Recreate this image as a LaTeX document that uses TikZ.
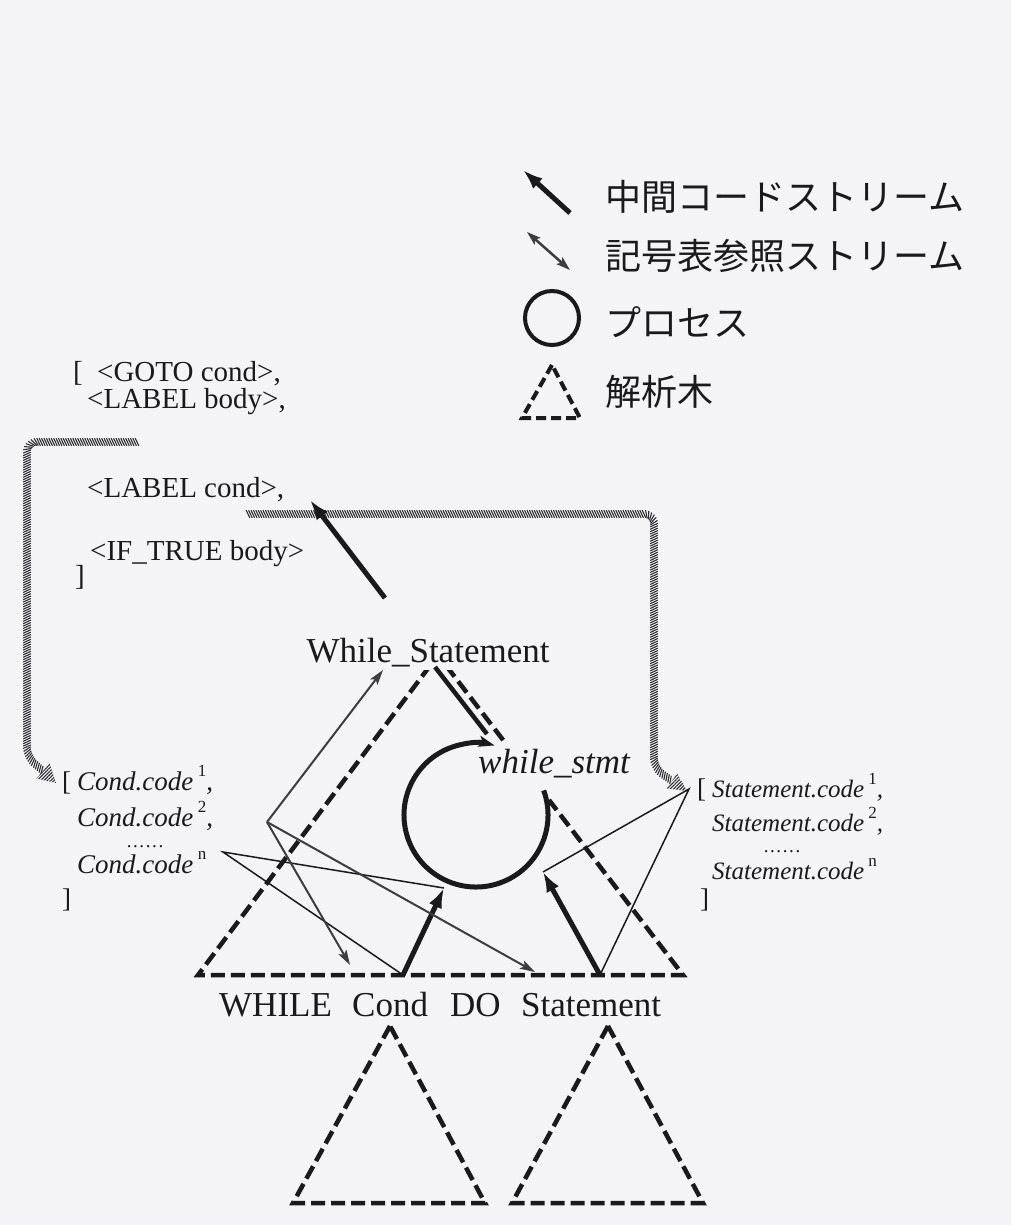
\documentclass[tikz,border=0pt]{standalone}
\usepackage{fontspec}
\setmainfont{Liberation Serif}
\newfontfamily\jpfont{Noto Sans CJK JP}
\usetikzlibrary{arrows.meta,decorations.markings,patterns.meta,calc}
\definecolor{bgcol}{RGB}{244,243,247}
\definecolor{hatchcol}{RGB}{45,45,52}
\definecolor{symgray}{RGB}{60,60,66}
\definecolor{inkcol}{RGB}{25,25,30}
\newcommand{\supx}[1]{\,\raisebox{0.5em}{\fontsize{17}{17}\selectfont\upshape #1}}
\newcommand{\dotrow}{.\hspace{1.6pt}.\hspace{1.6pt}.\hspace{1.6pt}.\hspace{1.6pt}.\hspace{1.6pt}.}
\begin{document}
\begin{tikzpicture}[x=1pt,y=-1pt,
 thickarrow/.style={draw=inkcol,line width=5pt,-{Latex[length=20pt,width=14pt]}},
 thickline/.style={draw=inkcol,line width=4.5pt},
 symarrow/.style={draw=symgray,line width=2pt,-{Stealth[length=15pt,width=9pt,inset=3pt]}},
 symboth/.style={draw=symgray,line width=2.5pt,{Stealth[length=14pt,width=9pt,inset=3pt]}-{Stealth[length=14pt,width=9pt,inset=3pt]}},
 thinline/.style={draw=inkcol,line width=1.5pt,line join=miter},
 treedash/.style={draw=inkcol,line width=4.5pt,dash pattern=on 14pt off 6pt},
 legdash/.style={draw=inkcol,line width=4pt,dash pattern=on 10pt off 5pt},
 hatchpath/.style={rounded corners=10pt, postaction={decorate}, decoration={markings, mark=between positions 0 and 1 step 2.4pt with {\draw[hatchcol,line width=1.1pt] (-1.8pt,3.8pt) -- (1.8pt,-3.8pt);}}},
 hatchtip/.style={pattern={Lines[angle=45,distance=2.4pt,line width=1.1pt]},pattern color=hatchcol},
 codetxt/.style={font=\fontsize{29}{31}\selectfont,anchor=base west,inner sep=0pt,text=inkcol},
 ittxt/.style={font=\fontsize{27}{29}\selectfont\itshape,anchor=base west,inner sep=0pt,text=inkcol},
 sttxt/.style={font=\fontsize{25}{27}\selectfont\itshape,anchor=base west,inner sep=0pt,text=inkcol},
 brtxt/.style={font=\fontsize{27}{29}\selectfont,anchor=base west,inner sep=0pt,text=inkcol},
 dottxt/.style={font=\fontsize{19}{20}\selectfont,anchor=base,inner sep=0pt,text=inkcol},
 bigtxt/.style={font=\fontsize{35}{37}\selectfont,inner sep=0pt,text=inkcol},
 jptxt/.style={font=\jpfont\fontsize{36}{38}\selectfont,anchor=west,inner sep=0pt,text=inkcol}
]
\fill[bgcol] (0,0) rectangle (1011,1225);
\useasboundingbox (0,0) rectangle (1011,1225);

% ---------------- legend ----------------
\coordinate (l1a) at (570,213); \coordinate (l1b) at (523,170);
\draw[thickarrow] (l1a) -- (l1b);
\node[jptxt] (t1) at (605,197) {中間コードストリーム};
\coordinate (l2a) at (527,232); \coordinate (l2b) at (570,270);
\draw[symboth] (l2a) -- (l2b);
\node[jptxt] (t2) at (605,256) {記号表参照ストリーム};
\node[circle,draw=inkcol,line width=4pt,minimum size=54pt,inner sep=0pt] (lc) at (552,318) {};
\node[jptxt] (t3) at (605,322) {プロセス};
\coordinate (lt1) at (552,365); \coordinate (lt2) at (522,418); \coordinate (lt3) at (580,418);
\draw[legdash] (lt1) -- (lt2) -- (lt3) -- cycle;
\node[jptxt] (t4) at (605,392) {解析木};

% ---------------- code list ----------------
\node[codetxt] (lb1) at (73,381) {[};
\node[codetxt] (g1) at (97,381) {<GOTO cond>,};
\node[codetxt] (g2) at (87,408) {<LABEL body>,};
\node[codetxt] (g3) at (87,497) {<LABEL cond>,};
\node[codetxt] (g4) at (90,560) {<IF\_TRUE body>};
\node[codetxt] (rb1) at (75,585) {]};

% hatched streams
\coordinate (h1s) at (137,442); \coordinate (h1c1) at (27,442);
\coordinate (h1c2) at (27,757); \coordinate (h1e) at (43,771);
\path[hatchpath] (h1s) -- (h1c1) -- (h1c2) -- (h1e);
\coordinate (h1b1) at (36.4,778.5); \coordinate (h1b2) at (49.6,763.5); \coordinate (h1t) at (56,783);
\fill[hatchtip] (h1b1) -- (h1t) -- (h1b2) -- cycle;

\coordinate (h2s) at (248,514); \coordinate (h2c1) at (654,514);
\coordinate (h2c2) at (654,768); \coordinate (h2e) at (672,781);
\path[hatchpath] (h2s) -- (h2c1) -- (h2c2) -- (h2e);
\coordinate (h2b1) at (666.8,788.4); \coordinate (h2b2) at (677.2,773.6); \coordinate (h2t) at (687,791);
\fill[hatchtip] (h2b1) -- (h2t) -- (h2b2) -- cycle;

% ---------------- parse tree ----------------
\coordinate (tA) at (438,655); \coordinate (tL) at (198,975); \coordinate (tR) at (683,975);
\draw[treedash] ($(tA)!0.266!(tR)$) -- (tA) -- (tL) -- (tR) -- ($(tA)!0.453!(tR)$);

\node[bigtxt,anchor=base,fill=bgcol,inner ysep=3pt,inner xsep=1pt] (ws) at (428,662) {While\_Statement};
\coordinate (wsout) at (385,598); \coordinate (codein) at (310,500);
\draw[thickarrow] (wsout) -- (codein);

\node[bigtxt,anchor=base west] (wh) at (219,1016) {WHILE};
\node[bigtxt,anchor=base west] (cd) at (352,1016) {Cond};
\node[bigtxt,anchor=base west] (dokw) at (450,1016) {DO};
\node[bigtxt,anchor=base west] (st) at (521,1016) {Statement};

% sub trees
\coordinate (s1a) at (390,1026); \coordinate (s1l) at (293,1203); \coordinate (s1r) at (485,1203);
\draw[treedash] (s1a) -- (s1l) -- (s1r) -- cycle;
\coordinate (s2a) at (608,1026); \coordinate (s2l) at (512,1203); \coordinate (s2r) at (703,1203);
\draw[treedash] (s2a) -- (s2l) -- (s2r) -- cycle;

% ---------------- process ----------------
\node[bigtxt,font=\fontsize{35}{37}\selectfont\itshape,anchor=base west] (proc) at (478,773) {while\_stmt};
\coordinate (pc) at (476,815);
\draw[draw=inkcol,line width=5pt,-{Stealth[length=16pt,width=11pt,inset=4pt]}] (pc) ++(-20:72) arc[start angle=-20,end angle=285,radius=72];
\coordinate (pout) at (487,734); \coordinate (pws) at (435,667);
\draw[thickline] (pout) -- (pws);

% ---------------- attribute lists ----------------
\node[brtxt] (cbr) at (62,790) {[};
\node[ittxt] (c1) at (77,790) {Cond.code\supx{1},};
\node[ittxt] (c2) at (77,826) {Cond.code\supx{2},};
\node[dottxt] (cdots) at (145,847) {\dotrow};
\node[ittxt] (cn) at (77,873) {Cond.code\supx{n}};
\node[brtxt] (cbr2) at (62,907) {]};

\node[brtxt] (sbr) at (697,797) {[};
\node[sttxt] (s1) at (712,797) {Statement.code\supx{1},};
\node[sttxt] (s2) at (712,831) {Statement.code\supx{2},};
\node[dottxt] (sdots) at (782,852) {\dotrow};
\node[sttxt] (sn) at (712,879) {Statement.code\supx{n}};
\node[brtxt] (sbr2) at (700,907) {]};

% ---------------- streams into process ----------------
\coordinate (condpt) at (403,975); \coordinate (condtip) at (444,888);
\coordinate (stmtpt) at (600,975); \coordinate (stmttip) at (543,872);
\coordinate (cnend) at (223,852); \coordinate (scbr) at (689,789);
\draw[thinline] (condpt) -- (cnend) -- (condtip);
\draw[thinline] (stmtpt) -- (scbr) -- (stmttip);
\draw[thickarrow] (condpt) -- (condtip);
\draw[thickarrow] (stmtpt) -- (stmttip);

% ---------------- symbol table references ----------------
\coordinate (symv) at (267,822); \coordinate (symtop) at (383,670);
\coordinate (symcond) at (350,965); \coordinate (symstmt) at (535,972);
\draw[symarrow] (symv) -- (symtop);
\draw[symarrow] (symv) -- (symcond);
\draw[symarrow] (symv) -- (symstmt);
\end{tikzpicture}
\end{document}
